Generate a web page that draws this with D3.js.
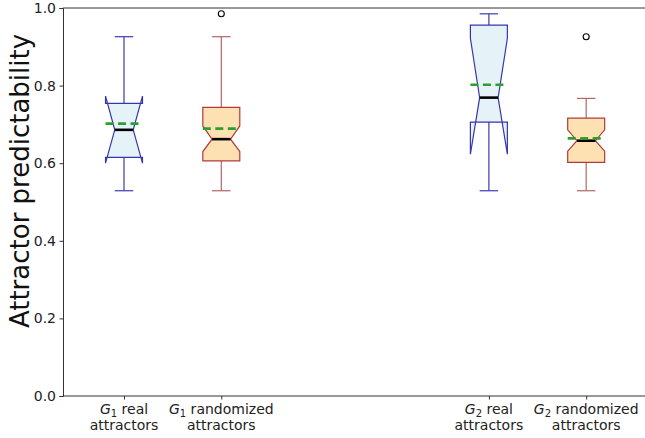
<!DOCTYPE html>
<html>
<head>
<meta charset="utf-8">
<script src="https://cdn.jsdelivr.net/npm/d3@7"></script>
<style>
  html, body { margin: 0; padding: 0; background: #fff; }
  svg { display: block; font-family: "DejaVu Sans", sans-serif; }
</style>
</head>
<body>
<svg id="chart" width="645" height="438"></svg>
<script>
// ---- data ----
const graphIds   = ["1", "1", "2", "2"];
const kinds      = ["real", "randomized", "real", "randomized"];
const whiskerLow = [0.529, 0.529, 0.529, 0.529];
const q1         = [0.615, 0.606, 0.706, 0.602];
const medians    = [0.686, 0.662, 0.769, 0.658];
const q3         = [0.754, 0.744, 0.956, 0.716];
const whiskerHigh= [0.926, 0.926, 0.985, 0.767];
const means      = [0.702, 0.689, 0.802, 0.664];
const notchLow   = [0.600, 0.630, 0.623, 0.631];
const notchHigh  = [0.773, 0.696, 0.922, 0.686];
const outliers   = [[], [0.985], [], [0.926]];
const yTicks     = [0.0, 0.2, 0.4, 0.6, 0.8, 1.0];
const yLabel     = "Attractor predictability";

// ---- layout ----
const svg = d3.select("#chart");
const mLeft = 63, mTop = 8, mBottom = 396;
const groupGap = 1.75;
const pos = graphIds.map((g, i) => i + 1 + (i >= 2 ? groupGap : 0));
const x = d3.scaleLinear().domain([0.373, 7.0]).range([mLeft, mLeft + 6.627 * 97.3]);
const y = d3.scaleLinear().domain([0, 1]).range([mBottom, mTop]);
const boxW = 0.38;

const style = {
  real:       { edge: "#3636b0", whisk: "#3a3ab4", fill: "#e5f2f8" },
  randomized: { edge: "#b03a3a", whisk: "#b46464", fill: "#fee1b2" }
};

const data = graphIds.map((g, i) => ({
  g, kind: kinds[i], p: pos[i],
  lo: whiskerLow[i], q1: q1[i], med: medians[i], q3: q3[i], hi: whiskerHigh[i],
  mean: means[i], nlo: notchLow[i], nhi: notchHigh[i], out: outliers[i]
}));

const plot = svg.append("g");

data.forEach(d => {
  const st = style[d.kind];
  const cx = x(d.p);
  const bl = x(d.p - boxW / 2), br = x(d.p + boxW / 2);
  const cl = x(d.p - boxW / 4), cr = x(d.p + boxW / 4);
  const g = plot.append("g");

  // whiskers
  g.append("line").attr("x1", cx).attr("x2", cx).attr("y1", y(d.q1)).attr("y2", y(d.lo))
    .attr("stroke", st.whisk).attr("stroke-width", 1.2);
  g.append("line").attr("x1", cx).attr("x2", cx).attr("y1", y(d.q3)).attr("y2", y(d.hi))
    .attr("stroke", st.whisk).attr("stroke-width", 1.2);
  // caps
  [d.lo, d.hi].forEach(v => {
    g.append("line").attr("x1", cl).attr("x2", cr).attr("y1", y(v)).attr("y2", y(v))
      .attr("stroke", st.whisk).attr("stroke-width", 1.2);
  });

  // notched box (matplotlib-style path)
  const pts = [
    [bl, y(d.q1)], [bl, y(d.nlo)], [cl, y(d.med)], [bl, y(d.nhi)], [bl, y(d.q3)],
    [br, y(d.q3)], [br, y(d.nhi)], [cr, y(d.med)], [br, y(d.nlo)], [br, y(d.q1)]
  ];
  g.append("path").attr("d", d3.line()(pts) + "Z")
    .attr("fill", st.fill).attr("stroke", st.edge).attr("stroke-width", 1.2)
    .attr("stroke-linejoin", "miter");

  // median
  g.append("line").attr("x1", cl).attr("x2", cr).attr("y1", y(d.med)).attr("y2", y(d.med))
    .attr("stroke", "#000").attr("stroke-width", 2.6);
  // mean (dashed green)
  g.append("line").attr("x1", bl).attr("x2", br).attr("y1", y(d.mean)).attr("y2", y(d.mean))
    .attr("stroke", "#2ca02c").attr("stroke-width", 2.6).attr("stroke-dasharray", "8,4.5");

  // outliers
  g.selectAll("circle.out").data(d.out).enter().append("circle")
    .attr("cx", cx).attr("cy", v => y(v)).attr("r", 3)
    .attr("fill", "none").attr("stroke", "#000").attr("stroke-width", 1.1);
});

// ---- axes ----
const yAxis = d3.axisLeft(y).tickValues(yTicks).tickFormat(d3.format(".1f")).tickSize(3.5).tickPadding(3.5);
const ya = svg.append("g").attr("transform", `translate(${mLeft},0)`).call(yAxis);
ya.select(".domain").attr("stroke", "#333").attr("stroke-width", 1);
ya.selectAll(".tick line").attr("stroke", "#333");
ya.selectAll(".tick text").attr("font-size", 14).attr("fill", "#222")
  .attr("font-family", "DejaVu Sans");

// x axis baseline and top spine
svg.append("line").attr("x1", mLeft).attr("x2", 645).attr("y1", mBottom).attr("y2", mBottom)
  .attr("stroke", "#333").attr("stroke-width", 1);
svg.append("line").attr("x1", mLeft).attr("x2", 645).attr("y1", mTop).attr("y2", mTop)
  .attr("stroke", "#333").attr("stroke-width", 1);

const xAxis = d3.axisBottom(x).tickValues(pos).tickSize(3.5).tickFormat("");
const xa = svg.append("g").attr("transform", `translate(0,${mBottom})`).call(xAxis);
xa.select(".domain").remove();
xa.selectAll(".tick line").attr("stroke", "#333");

// x tick labels (two lines, italic G with subscript)
data.forEach(d => {
  const cx = x(d.p);
  const t1 = svg.append("text").attr("x", cx).attr("y", 413.5).attr("text-anchor", "middle")
    .attr("font-size", 14).attr("fill", "#222");
  t1.append("tspan").attr("font-style", "italic").text("G");
  t1.append("tspan").attr("font-size", 10).attr("dy", 3).text(d.g);
  t1.append("tspan").attr("dy", -3).text(" " + d.kind);
  svg.append("text").attr("x", cx).attr("y", 430).attr("text-anchor", "middle")
    .attr("font-size", 14).attr("fill", "#222").text("attractors");
});

// y label
svg.append("text")
  .attr("transform", `translate(29,181) rotate(-90)`)
  .attr("text-anchor", "middle").attr("font-size", 26).attr("fill", "#111")
  .text(yLabel);
</script>
</body>
</html>
